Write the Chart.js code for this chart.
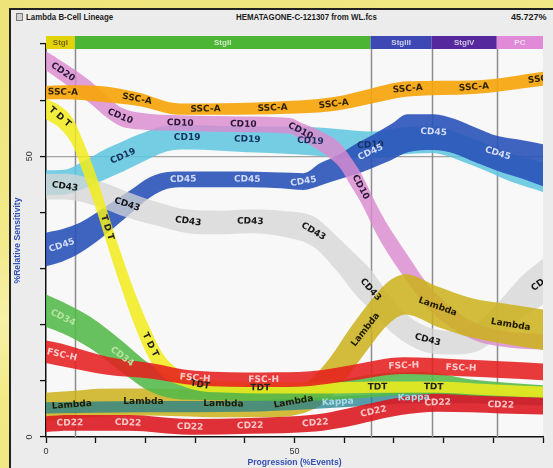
<!DOCTYPE html>
<html>
<head>
<meta charset="utf-8">
<title>Lambda B-Cell Lineage</title>
<script src="https://cdn.jsdelivr.net/npm/chart.js@4.4.1/dist/chart.umd.min.js"></script>
<style>
  html, body { margin: 0; padding: 0; }
  body {
    width: 553px; height: 468px; overflow: hidden; position: relative;
    background: linear-gradient(160deg, #eee379 0%, #f2e988 35%, #f7f0a6 48%, #f2e985 60%, #ede27a 100%);
  }
  #panel { position: absolute; left: 9px; top: 8px; width: 600px; height: 520px;
           background: #ececec; border: 2px solid #222; box-sizing: border-box; }
  .cap { position: absolute; top: 11px; line-height: 12px; white-space: nowrap; color: #1d1d1d;
         font: bold 9.5px "Liberation Sans", Arial, sans-serif;
         transform: scaleX(0.83); transform-origin: 0 50%; }
  #icon { position: absolute; left: 16px; top: 13px; width: 5px; height: 6px;
          border: 1px solid #777; background: #d0d0d0; }
  canvas { position: absolute; left: 0; top: 0; }
</style>
</head>
<body>
<div id="panel"></div>
<div id="icon"></div>
<div class="cap" style="left:26px">Lambda B-Cell Lineage</div>
<div class="cap" style="left:236px">HEMATAGONE-C-121307 from WL.fcs</div>
<div class="cap" style="left:511px; transform: scaleX(0.95)">45.727%</div>
<canvas id="c" width="553" height="468"></canvas>
<script>
// Axis tick labels that are printed
const xTickLabels = [0, 50];
const yTickLabels = [0, 50];

// Maturation stages along the progression axis (%events)
const stageNames = ['StgI', 'StgII', 'StgIII', 'StgIV', 'PC'];
const stageEdges = [0, 5.8, 65.3, 77.6, 90.7, 100];

// Marker bands: progression (x), median relative sensitivity (y), half spread, tag text at points
const sscX = [0, 3.4, 10.9, 18.3, 27.0, 32.1, 45.6, 57.9, 65.3, 72.8, 86.1, 100];
const sscY = [61.3, 61.4, 61.1, 60.2, 58.4, 58.4, 58.6, 59.3, 60.7, 62.0, 62.3, 63.8];
const sscSpread = [1.2, 1.25, 1.4, 1.2, 1.0, 1.0, 1.1, 1.25, 1.35, 1.35, 1.2, 1.25];
const sscTags = ['', 'SSC-A', '', 'SSC-A', '', 'SSC-A', 'SSC-A', 'SSC-A', '', 'SSC-A', 'SSC-A', 'SSC-A'];

const cd10X = [0, 3.4, 5.4, 8.9, 12.3, 14.9, 19.0, 27.0, 39.7, 49.2, 51.2, 55.2, 59.3, 61.3, 63.3, 66.5, 68.8, 72.6, 77.4, 85.5, 93.5, 100];
const cd10Y = [67.0, 65.0, 63.75, 61.4, 58.75, 57.1, 56.25, 55.9, 55.7, 55.4, 54.5, 52.7, 50.0, 47.3, 44.5, 38.75, 35.2, 30.2, 24.5, 19.1, 17.3, 17.0];
const cd10Spread = [1.7, 1.8, 1.9, 2.0, 1.9, 1.7, 1.5, 1.4, 1.4, 1.4, 1.5, 1.8, 2.2, 2.5, 2.6, 2.6, 2.5, 2.4, 2.1, 1.6, 1.4, 1.4];
const cd10Tags = ['', 'CD20', '', '', '', 'CD10', '', 'CD10', 'CD10', '', 'CD10', '', '', '', 'CD10', '', '', '', '', '', '', ''];

const cd19X = [0, 3.8, 6.9, 12.3, 15.5, 19.0, 24.4, 28.4, 35.1, 40.5, 47.2, 53.2, 59.3, 65.3, 71.4, 77.4, 85.5, 93.5, 100];
const cd19Y = [45.3, 45.4, 46.4, 48.75, 50.0, 51.4, 53.2, 53.4, 53.2, 53.0, 52.9, 52.7, 52.3, 52.0, 52.7, 53.0, 50.9, 48.0, 46.25];
const cd19Spread = [2.2, 2.2, 2.4, 2.7, 2.7, 2.6, 2.3, 2.2, 2.2, 2.3, 2.4, 2.5, 2.5, 2.4, 2.4, 2.4, 2.4, 2.5, 2.6];
const cd19Tags = ['', '', '', '', 'CD19', '', '', 'CD19', '', 'CD19', '', 'CD19', '', 'CD19', '', '', '', '', ''];

const cd45X = [0, 3.2, 6.9, 12.3, 16.9, 21.0, 24.4, 27.6, 35.1, 40.5, 47.2, 51.8, 55.2, 58.7, 62.3, 65.3, 69.4, 72.8, 78.0, 82.1, 86.5, 90.9, 95.6, 100];
const cd45Y = [33.4, 34.1, 35.5, 38.75, 41.8, 44.5, 45.7, 45.9, 45.9, 45.9, 45.7, 45.5, 46.8, 48.0, 49.5, 50.7, 52.5, 54.1, 54.3, 53.6, 52.0, 50.5, 49.5, 48.4];
const cd45Spread = [3.0, 2.9, 2.7, 2.5, 2.1, 1.8, 1.5, 1.4, 1.4, 1.4, 1.4, 1.5, 2.0, 2.2, 2.7, 2.9, 3.2, 3.4, 3.2, 3.1, 3.1, 3.1, 3.4, 3.75];
const cd45Tags = ['', 'CD45', '', '', '', '', '', 'CD45', '', 'CD45', '', 'CD45', '', '', '', 'CD45', '', '', 'CD45', '', '', 'CD45', '', ''];

const cd43X = [0, 3.8, 10.9, 16.3, 23.0, 28.6, 35.1, 41.1, 48.2, 53.8, 58.7, 62.3, 65.3, 69.4, 73.4, 76.8, 81.5, 86.5, 91.5, 95.6, 100];
const cd43Y = [44.6, 44.6, 43.2, 41.4, 39.6, 38.4, 38.2, 38.4, 37.9, 36.6, 32.5, 28.9, 26.25, 21.8, 18.75, 17.3, 16.8, 17.7, 21.25, 24.8, 27.7];
const cd43Spread = [2.3, 2.3, 2.3, 2.3, 2.1, 2.1, 2.1, 2.1, 2.3, 2.7, 3.1, 3.6, 3.6, 3.1, 2.5, 2.3, 2.1, 2.5, 3.2, 3.75, 4.1];
const cd43Tags = ['', 'CD43', '', 'CD43', '', 'CD43', '', 'CD43', '', 'CD43', '', '', 'CD43', '', '', 'CD43', '', '', '', '', 'CD43'];

const tdtX = [0, 2.8, 5.4, 7.5, 9.9, 12.3, 14.9, 17.9, 21.0, 23.6, 27.0, 31.0, 37.1, 43.1, 55.2, 66.7, 78.0, 89.5, 100];
const tdtY = [58.4, 57.0, 54.3, 49.8, 44.1, 37.3, 30.2, 22.7, 16.4, 12.7, 10.5, 9.3, 8.9, 8.75, 8.75, 8.9, 8.9, 8.4, 8.0];
const tdtSpread = [1.8, 2.0, 2.4, 2.8, 3.0, 3.0, 3.0, 3.0, 2.8, 2.0, 1.3, 1.1, 1.0, 1.0, 1.0, 1.0, 1.0, 1.0, 1.0];
const tdtTags = ['', 'T D T', '', '', '', 'T D T', '', '', 'T D T', '', '', 'TDT', '', 'TDT', '', 'TDT', 'TDT', '', ''];

const cd34X = [0, 3.4, 8.9, 15.3, 21.0, 27.0, 35.1, 43.1, 55.2, 65.3, 75.4, 85.5, 100];
const cd34Y = [22.5, 21.25, 18.6, 14.3, 10.5, 8.4, 7.9, 7.7, 8.0, 9.1, 9.6, 8.75, 8.0];
const cd34Spread = [2.9, 2.8, 2.8, 2.8, 2.4, 1.7, 1.3, 1.3, 1.5, 2.0, 2.0, 1.5, 1.2];
const cd34Tags = ['', 'CD34', '', 'CD34', '', '', '', '', '', '', '', '', ''];

const fscX = [0, 3.2, 12.3, 21.0, 30.0, 43.8, 53.2, 61.3, 72.0, 83.5, 91.5, 100];
const fscY = [15.2, 14.6, 12.7, 11.8, 10.5, 10.2, 10.4, 11.4, 12.7, 12.3, 12.0, 11.6];
const fscSpread = [2.0, 2.0, 1.6, 1.4, 1.3, 1.3, 1.3, 1.4, 1.5, 1.5, 1.5, 1.5];
const fscTags = ['', 'FSC-H', '', '', 'FSC-H', 'FSC-H', '', '', 'FSC-H', 'FSC-H', '', ''];

const lambdaX = [0, 5.2, 10.9, 19.6, 27.0, 35.7, 43.1, 49.8, 53.2, 57.3, 60.9, 64.3, 68.9, 72.4, 78.8, 85.5, 93.5, 100];
const lambdaY = [5.4, 5.7, 6.1, 6.25, 6.1, 5.9, 5.9, 6.25, 7.5, 10.7, 15.0, 19.1, 23.9, 25.4, 23.2, 21.25, 20.0, 19.1];
const lambdaSpread = [2.5, 2.5, 2.5, 2.4, 2.4, 2.4, 2.4, 2.4, 2.8, 3.6, 4.0, 4.0, 3.8, 3.6, 3.6, 3.5, 3.6, 3.6];
const lambdaTags = ['', 'Lambda', '', 'Lambda', '', 'Lambda', '', 'Lambda', '', '', '', 'Lambda', '', '', 'Lambda', '', 'Lambda', ''];

const kappaX = [0, 20, 40, 52, 58.7, 66, 74, 84, 92, 100];
const kappaY = [5.2, 5.4, 5.5, 5.9, 6.25, 6.6, 7.0, 7.0, 6.8, 6.6];
const kappaSpread = [1.0, 1.0, 1.0, 1.0, 1.0, 1.0, 1.0, 1.0, 1.0, 1.0];
const kappaTags = ['', '', '', '', 'Kappa', '', 'Kappa', '', '', ''];

const cd22X = [0, 4.8, 16.5, 29.0, 41.1, 54.2, 60.3, 65.9, 71.4, 78.8, 85.5, 91.5, 100];
const cd22Y = [2.3, 2.5, 2.5, 1.8, 2.0, 2.5, 3.4, 4.5, 5.5, 6.1, 5.9, 5.7, 5.5];
const cd22Spread = [1.4, 1.4, 1.4, 1.4, 1.4, 1.5, 1.6, 1.6, 1.6, 1.6, 1.5, 1.5, 1.5];
const cd22Tags = ['', 'CD22', 'CD22', 'CD22', 'CD22', 'CD22', '', 'CD22', '', 'CD22', '', 'CD22', ''];

// Bands listed from the bottom of the stack to the top
const bands = [
  { x: cd19X, y: cd19Y, s: cd19Spread, tags: cd19Tags, color: '#5ec6df', alpha: 0.85, ink: '#14305e' },
  { x: cd45X, y: cd45Y, s: cd45Spread, tags: cd45Tags, color: '#2a53b8', alpha: 0.9, ink: '#d3dbf6' },
  { x: cd43X, y: cd43Y, s: cd43Spread, tags: cd43Tags, color: '#d6d6d6', alpha: 0.75, ink: '#161616' },
  { x: cd10X, y: cd10Y, s: cd10Spread, tags: cd10Tags, color: '#db8bcf', alpha: 0.82, ink: '#2a1838' },
  { x: sscX, y: sscY, s: sscSpread, tags: sscTags, color: '#f6a40c', alpha: 0.92, ink: '#2a1f00' },
  { x: lambdaX, y: lambdaY, s: lambdaSpread, tags: lambdaTags, color: '#cdb21a', alpha: 0.85, ink: '#1e1a00' },
  { x: kappaX, y: kappaY, s: kappaSpread, tags: kappaTags, color: '#1f7f8f', alpha: 0.75, ink: '#a8dde8' },
  { x: cd34X, y: cd34Y, s: cd34Spread, tags: cd34Tags, color: '#52b947', alpha: 0.87, ink: '#b5e3a0' },
  { x: tdtX, y: tdtY, s: tdtSpread, tags: tdtTags, color: '#f1ec1a', alpha: 0.85, ink: '#222222' },
  { x: fscX, y: fscY, s: fscSpread, tags: fscTags, color: '#e61e1e', alpha: 0.87, ink: '#f8cccc' },
  { x: cd22X, y: cd22Y, s: cd22Spread, tags: cd22Tags, color: '#dc1a22', alpha: 0.9, ink: '#f6c6c6' }
];

const stageColors = ['#e2d20a', '#4db536', '#3d48b5', '#55289d', '#e08ad8'];
const stageInk = ['#766700', 'rgba(255,255,255,0.72)', 'rgba(255,255,255,0.72)', 'rgba(255,255,255,0.72)', 'rgba(255,255,255,0.72)'];

function rgba(hex, a) {
  const n = parseInt(hex.slice(1), 16);
  return 'rgba(' + (n >> 16) + ',' + ((n >> 8) & 255) + ',' + (n & 255) + ',' + a + ')';
}

// Each band: lower edge, upper edge filled down to the lower edge, and a hidden centre line for the tags
const datasets = [];
bands.forEach((b, k) => {
  const order = bands.length - k;
  const lowIdx = datasets.length;
  datasets.push({
    data: b.x.map((x, i) => ({ x, y: b.y[i] - b.s[i] })),
    borderWidth: 0, pointRadius: 0, fill: false, cubicInterpolationMode: 'monotone', order
  });
  datasets.push({
    data: b.x.map((x, i) => ({ x, y: b.y[i] + b.s[i] })),
    borderWidth: 0, pointRadius: 0, fill: lowIdx, backgroundColor: rgba(b.color, b.alpha),
    cubicInterpolationMode: 'monotone', order
  });
  b.mid = datasets.length;
  datasets.push({
    data: b.x.map((x, i) => ({ x, y: b.y[i] })),
    showLine: false, pointRadius: 0, fill: false, order
  });
});

const plotBackground = {
  id: 'plotBackground',
  beforeDraw(chart) {
    const { ctx, chartArea: a } = chart;
    ctx.save();
    ctx.fillStyle = '#f8f8f8';
    ctx.fillRect(a.left, a.top - 8, a.right - a.left, a.bottom - a.top + 8);
    ctx.restore();
  }
};

const stageLines = {
  id: 'stageLines',
  beforeDatasetsDraw(chart) {
    const { ctx, chartArea: a, scales: { x } } = chart;
    ctx.save();
    ctx.strokeStyle = '#8d8d8d';
    ctx.lineWidth = 1.5;
    stageEdges.slice(1, -1).forEach(v => {
      const px = Math.round(x.getPixelForValue(v)) + 0.5;
      ctx.beginPath();
      ctx.moveTo(px, a.top + 5);
      ctx.lineTo(px, a.bottom);
      ctx.stroke();
    });
    ctx.restore();
  }
};

const stageBar = {
  id: 'stageBar',
  afterDatasetsDraw(chart) {
    const { ctx, chartArea: a, scales: { x } } = chart;
    const top = a.top - 8, h = 13;
    ctx.save();
    ctx.font = 'bold 8px "Liberation Sans", Arial, sans-serif';
    ctx.textAlign = 'center';
    ctx.textBaseline = 'middle';
    stageNames.forEach((name, i) => {
      const x0 = x.getPixelForValue(stageEdges[i]);
      const x1 = x.getPixelForValue(stageEdges[i + 1]);
      ctx.fillStyle = stageColors[i];
      ctx.fillRect(x0, top, x1 - x0, h);
      ctx.fillStyle = stageInk[i];
      ctx.fillText(name, (x0 + x1) / 2, top + h / 2 + 0.5);
    });
    ctx.restore();
  }
};

const bandTags = {
  id: 'bandTags',
  afterDatasetsDraw(chart) {
    const { ctx, chartArea: a } = chart;
    ctx.save();
    ctx.beginPath();
    ctx.rect(a.left, a.top + 5, a.right - a.left, a.bottom - a.top - 5);
    ctx.clip();
    ctx.font = 'bold 9px "DejaVu Sans", sans-serif';
    ctx.textAlign = 'center';
    ctx.textBaseline = 'middle';
    bands.forEach(b => {
      const pts = chart.getDatasetMeta(b.mid).data;
      b.tags.forEach((t, i) => {
        if (!t) return;
        const p = pts[i];
        const q0 = pts[Math.max(i - 1, 0)];
        const q1 = pts[Math.min(i + 1, pts.length - 1)];
        const ang = Math.atan2(q1.y - q0.y, q1.x - q0.x);
        ctx.save();
        ctx.translate(p.x, p.y);
        ctx.rotate(ang);
        ctx.fillStyle = b.ink;
        ctx.fillText(t, 0, 0);
        ctx.restore();
      });
    });
    ctx.restore();
  }
};

const axisFont = '"Liberation Sans", Arial, sans-serif';

new Chart(document.getElementById('c'), {
  type: 'line',
  data: { datasets },
  plugins: [plotBackground, stageLines, stageBar, bandTags],
  options: {
    responsive: false,
    animation: false,
    devicePixelRatio: 1,
    layout: { padding: { left: 12, top: 44, right: 10, bottom: 0 } },
    plugins: { legend: { display: false }, tooltip: { enabled: false } },
    scales: {
      x: {
        type: 'linear', min: 0, max: 100,
        ticks: {
          stepSize: 10, autoSkip: false, maxRotation: 0, padding: 3, color: '#333',
          font: { size: 9, family: axisFont },
          callback: v => xTickLabels.includes(v) ? String(v) : ''
        },
        grid: { color: 'rgba(0,0,0,0)', tickColor: '#111', tickLength: 6, tickWidth: 1.3 },
        border: { color: '#111', width: 1.5 },
        title: { display: true, text: 'Progression (%Events)', color: '#3350b3', padding: 0,
                 font: { size: 8.6, weight: 'bold', family: axisFont } },
        afterFit: s => { s.height = 31; }
      },
      y: {
        type: 'linear', min: 0, max: 70,
        ticks: {
          stepSize: 10, autoSkip: false, minRotation: 90, maxRotation: 90, crossAlign: 'center',
          padding: 5, color: '#333', font: { size: 9, family: axisFont },
          callback: v => yTickLabels.includes(v) ? String(v) : ''
        },
        grid: {
          color: c => (c.tick && c.tick.value === 50) ? '#a3a3a3' : 'rgba(0,0,0,0)',
          lineWidth: 1.2, tickColor: '#111', tickLength: 6, tickWidth: 1.3
        },
        border: { color: '#111', width: 1.5 },
        title: { display: true, text: '%Relative Sensitivity', color: '#3350b3', padding: 0,
                 font: { size: 8.6, weight: 'bold', family: axisFont } },
        afterFit: s => { s.width = 34; }
      }
    }
  }
});
</script>
</body>
</html>
